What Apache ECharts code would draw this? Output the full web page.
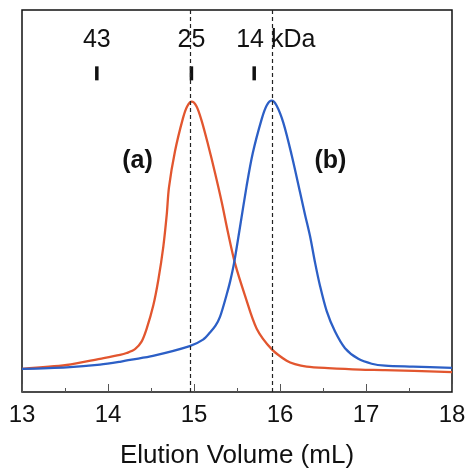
<!DOCTYPE html>
<html>
<head>
<meta charset="utf-8">
<script src="https://cdn.jsdelivr.net/npm/echarts@6/dist/echarts.min.js"></script>
<style>html,body{margin:0;padding:0;background:#fff}#c{width:469px;height:474px}</style>
</head>
<body>
<div id="c"></div>
<script>
// Elution volume (mL) / absorbance (arbitrary units)
const curveA = [
  [13.0,23.7],[13.52,27.7],[13.907,34],[14.14,38],[14.217,40],[14.314,44],[14.392,52],
  [14.45,65],[14.527,89],[14.585,115],[14.643,149],[14.683,182],[14.709,210],[14.779,247],
  [14.872,281],[14.92,293],[14.973,298],[15.03,293],[15.09,278],[15.166,253],[15.244,225],
  [15.322,195],[15.392,165],[15.477,132],[15.593,99],[15.729,65],[15.903,44],[16.078,32],
  [16.174,28.5],[16.31,26],[16.558,24.5],[16.93,23],[17.221,22.5],[18.0,20.3]
];
const curveB = [
  [13.0,23.7],[13.52,25.3],[13.907,28],[14.14,31],[14.256,33],[14.523,37],[14.95,47],
  [15.105,53.7],[15.186,61],[15.25,68],[15.302,77],[15.38,100],[15.419,113],[15.465,132],[15.527,165],
  [15.613,212],[15.683,245],[15.787,280],[15.845,294],[15.903,299],[15.96,294],[16.04,276],
  [16.136,243],[16.233,205],[16.291,182],[16.349,160],[16.407,133],[16.465,109],[16.543,83],
  [16.64,62],[16.756,45],[16.91,34],[17.066,29],[17.221,27],[17.547,26],[18.0,24.7]
];
const peakLines = [14.965, 15.915];
const markerPos = [13.87, 14.97, 15.7];
const markerLabels = ['43', '25', '14 kDa'];
const markerLabelX = [13.87, 14.97, 15.49];
const curveLabels = [['(a)', 14.343, 237], ['(b)', 16.587, 237]];
const xTicks = [13, 14, 15, 16, 17, 18];

const chart = echarts.init(document.getElementById('c'));
const FONT = 'Liberation Sans';
chart.setOption({
  animation: false,
  grid: { left: 22, right: 17, top: 10, bottom: 72, show: true, borderColor: '#111', borderWidth: 1.5, backgroundColor: 'transparent' },
  xAxis: {
    type: 'value', min: xTicks[0], max: xTicks[xTicks.length - 1], interval: 1,
    axisLine: { show: false },
    axisTick: { show: true, inside: true, length: 8, lineStyle: { color: '#555', width: 1 } },
    minorTick: { show: true, splitNumber: 2, length: 4, lineStyle: { color: '#555', width: 1 } },
    splitLine: { show: false },
    axisLabel: { color: '#111', fontSize: 24, fontFamily: FONT, margin: 11 },
    name: 'Elution Volume (mL)', nameLocation: 'middle', nameGap: 51,
    nameTextStyle: { color: '#111', fontSize: 26, fontFamily: FONT }
  },
  yAxis: {
    type: 'value', min: 0, max: 392,
    axisLine: { show: false }, axisTick: { show: false }, axisLabel: { show: false }, splitLine: { show: false }
  },
  series: [
    {
      type: 'line', data: curveA, showSymbol: false, smooth: 0.3,
      lineStyle: { color: '#e2562f', width: 2.3 }, z: 3,
      markLine: {
        silent: true, symbol: 'none', label: { show: false },
        lineStyle: { color: '#222', type: [4, 3], width: 1.2 },
        data: peakLines.map(v => ({ xAxis: v }))
      }
    },
    {
      type: 'line', data: curveB, showSymbol: false, smooth: 0.3,
      lineStyle: { color: '#2c5fc6', width: 2.3 }, z: 3
    },
    {
      type: 'scatter', symbol: 'rect', symbolSize: [3.5, 14],
      itemStyle: { color: '#111', opacity: 1 },
      data: markerPos.map(v => [v, 327])
    },
    {
      type: 'scatter', symbolSize: 0, itemStyle: { opacity: 1 },
      data: markerLabels.map((t, i) => ({ value: [markerLabelX[i], 361], label: { formatter: t, align: i === 2 ? 'left' : 'center' } })),
      label: { show: true, position: 'inside', color: '#111', opacity: 1, textBorderWidth: 0, fontSize: 25, fontFamily: FONT, verticalAlign: 'middle' }
    },
    {
      type: 'scatter', symbolSize: 0, itemStyle: { opacity: 1 },
      data: curveLabels.map(c => ({ value: [c[1], c[2]], label: { formatter: c[0] } })),
      label: { show: true, position: 'inside', color: '#111', opacity: 1, textBorderWidth: 0, fontSize: 25, fontWeight: 'bold', fontFamily: FONT, align: 'center', verticalAlign: 'middle' }
    }
  ]
});
</script>
</body>
</html>
